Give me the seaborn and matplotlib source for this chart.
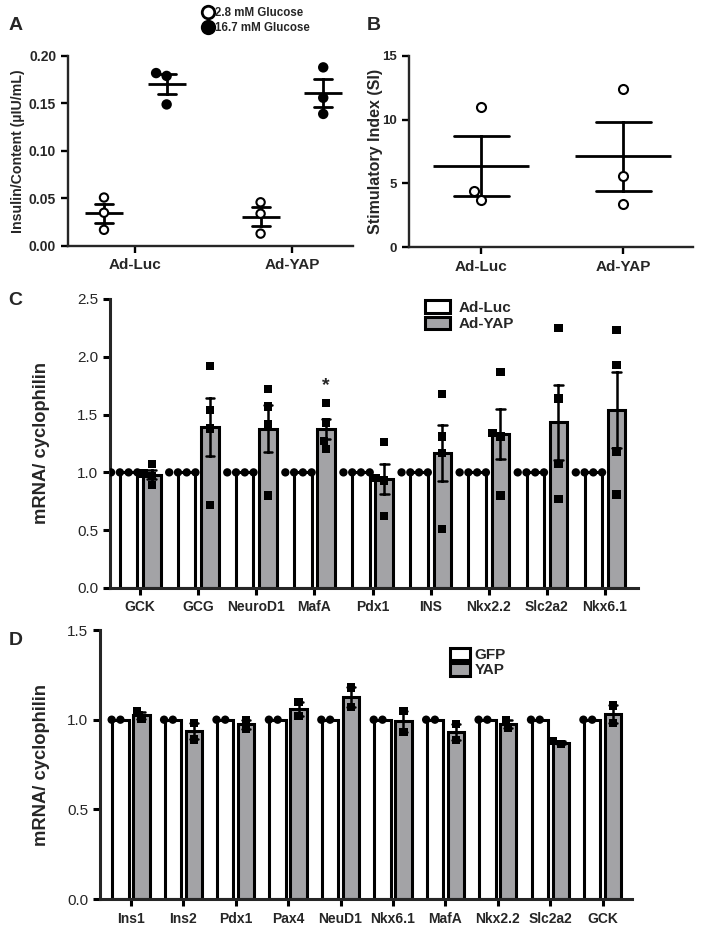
import numpy as np
import pandas as pd
import matplotlib
matplotlib.use("Agg")
import matplotlib.pyplot as plt
from matplotlib.lines import Line2D
import seaborn as sns

sns.set_style("ticks")
plt.rcParams["font.family"] = ["Liberation Sans", "DejaVu Sans"]

# ---- panel A: insulin secretion / content
a_groups = ["Ad-Luc", "Ad-YAP"]
a_glucose = ["2.8 mM Glucose", "16.7 mM Glucose"]
a_luc_low = [0.051, 0.035, 0.017]
a_luc_high = [0.182, 0.179, 0.149]
a_yap_low = [0.046, 0.034, 0.013]
a_yap_high = [0.188, 0.156, 0.139]

# ---- panel B: stimulatory index
b_groups = ["Ad-Luc", "Ad-YAP"]
b_luc = [11.0, 4.4, 3.7]
b_yap = [12.4, 5.6, 3.35]

# ---- panel C: mRNA, Ad-Luc vs Ad-YAP (n=4)
c_genes = ["GCK", "GCG", "NeuroD1", "MafA", "Pdx1", "INS", "Nkx2.2", "Slc2a2", "Nkx6.1"]
c_hue = ["Ad-Luc", "Ad-YAP"]
c_luc = [1.0, 1.0, 1.0, 1.0]  # normalised control, same for every gene
c_yap = [
    [1.07, 0.99, 0.97, 0.89],
    [1.92, 1.54, 1.38, 0.72],
    [1.72, 1.57, 1.42, 0.80],
    [1.60, 1.43, 1.27, 1.20],
    [1.26, 0.95, 0.93, 0.62],
    [1.68, 1.31, 1.17, 0.51],
    [1.87, 1.34, 1.31, 0.80],
    [2.25, 1.64, 1.07, 0.77],
    [2.23, 1.93, 1.18, 0.81],
]

# ---- panel D: mRNA, GFP vs YAP (n=2)
d_genes = ["Ins1", "Ins2", "Pdx1", "Pax4", "NeuD1", "Nkx6.1", "MafA", "Nkx2.2", "Slc2a2", "GCK"]
d_hue = ["GFP", "YAP"]
d_gfp = [1.0, 1.0]
d_yap = [
    [1.045, 1.005],
    [0.98, 0.89],
    [0.95, 1.0],
    [1.10, 1.02],
    [1.18, 1.07],
    [1.05, 0.93],
    [0.975, 0.885],
    [0.955, 1.0],
    [0.865, 0.88],
    [1.08, 0.98],
]

GREY = "#a3a3a6"

# long tables
rows = []
for grp, lo, hi in zip(a_groups, [a_luc_low, a_yap_low], [a_luc_high, a_yap_high]):
    rows += [(grp, a_glucose[0], v) for v in lo]
    rows += [(grp, a_glucose[1], v) for v in hi]
df_a = pd.DataFrame(rows, columns=["group", "glucose", "value"])

rows = []
for grp, vals in zip(b_groups, [b_luc, b_yap]):
    rows += [(grp, v) for v in vals]
df_b = pd.DataFrame(rows, columns=["group", "value"])

rows = []
for gene, yap in zip(c_genes, c_yap):
    rows += [(gene, c_hue[0], v) for v in c_luc]
    rows += [(gene, c_hue[1], v) for v in yap]
df_c = pd.DataFrame(rows, columns=["gene", "group", "value"])

rows = []
for gene, yap in zip(d_genes, d_yap):
    rows += [(gene, d_hue[0], v) for v in d_gfp]
    rows += [(gene, d_hue[1], v) for v in yap]
df_d = pd.DataFrame(rows, columns=["gene", "group", "value"])


def style_axis(ax, lw, ysize, ybold, xsize):
    sns.despine(ax=ax)
    for s in ["left", "bottom"]:
        ax.spines[s].set_linewidth(lw)
    ax.tick_params(axis="both", width=lw, length=5, color="black")
    ax.tick_params(axis="y", labelsize=ysize)
    ax.tick_params(axis="x", labelsize=xsize, pad=4)
    for lab in ax.get_xticklabels():
        lab.set_fontweight("bold")
    if ybold:
        for lab in ax.get_yticklabels():
            lab.set_fontweight("bold")
    ax.set_xlabel("")


fig = plt.figure(figsize=(7.03, 9.36), dpi=100)

# ---------------- A
ax = fig.add_axes([0.0967, 0.7372, 0.4054, 0.2030])
sns.swarmplot(data=df_a, x="group", y="value", hue="glucose", hue_order=a_glucose,
              dodge=True, palette={a_glucose[0]: "white", a_glucose[1]: "black"},
              edgecolor="black", linewidth=1.5, size=6, legend=False, ax=ax, zorder=3)
sns.pointplot(data=df_a, x="group", y="value", hue="glucose", hue_order=a_glucose,
              dodge=0.4, palette={a_glucose[0]: "black", a_glucose[1]: "black"},
              errorbar="se", capsize=0.115, markers="_", markersize=27,
              markeredgewidth=2, linestyle="none", linewidth=2, legend=False, ax=ax)
ax.set_xlim(-0.43, 1.39)
ax.set_ylim(0, 0.2)
ax.set_yticks([0, 0.05, 0.10, 0.15, 0.20])
ax.set_yticklabels(["0.00", "0.05", "0.10", "0.15", "0.20"])
ax.set_ylabel("Insulin/Content (µIU/mL)", fontsize=10.2, fontweight="bold")
ax.yaxis.set_label_coords(-0.151, 0.5)
style_axis(ax, 1.7, 10, True, 11)

handles = [Line2D([], [], marker="o", linestyle="none", markersize=9, mfc="white",
                  mec="black", mew=2),
           Line2D([], [], marker="o", linestyle="none", markersize=9, mfc="black",
                  mec="black", mew=2)]
fig.legend(handles, a_glucose, loc="upper left", bbox_to_anchor=(0.288, 0.993),
           frameon=False, handletextpad=0.05, labelspacing=0.3, handlelength=1.0,
           borderpad=0, borderaxespad=0, prop={"weight": "bold", "size": 8.3})

# ---------------- B
ax = fig.add_axes([0.5818, 0.7361, 0.4040, 0.2041])
sns.swarmplot(data=df_b, x="group", y="value", color="white", edgecolor="black",
              linewidth=1.5, size=6.5, ax=ax, zorder=3)
sns.pointplot(data=df_b, x="group", y="value", color="black", errorbar="se",
              capsize=0.39, markers="_", markersize=69, markeredgewidth=2,
              linestyle="none", linewidth=2, ax=ax)
ax.set_xlim(-0.51, 1.49)
ax.set_ylim(0, 15)
ax.set_yticks([0, 5, 10, 15])
ax.set_ylabel("Stimulatory Index (SI)", fontsize=11.5, fontweight="bold")
ax.yaxis.set_label_coords(-0.092, 0.5)
style_axis(ax, 1.7, 9.5, True, 11)

# ---------------- C
ax = fig.add_axes([0.1565, 0.3718, 0.7511, 0.3088])
sns.barplot(data=df_c, x="gene", y="value", hue="group", hue_order=c_hue,
            palette={c_hue[0]: "white", c_hue[1]: GREY}, saturation=1,
            errorbar="se", capsize=0.3, gap=0.25, edgecolor="black", linewidth=2.2,
            err_kws={"color": "black", "linewidth": 1.8}, ax=ax)
sns.swarmplot(data=df_c[df_c["group"] == c_hue[0]], x="gene", y="value", hue="group",
              hue_order=c_hue, dodge=True, marker="o",
              palette={c_hue[0]: "black", c_hue[1]: "black"}, size=6,
              legend=False, ax=ax, zorder=4, warn_thresh=1)
sns.swarmplot(data=df_c[df_c["group"] == c_hue[1]], x="gene", y="value", hue="group",
              hue_order=c_hue, dodge=True, marker="s",
              palette={c_hue[0]: "black", c_hue[1]: "black"}, size=6,
              legend=False, ax=ax, zorder=4, warn_thresh=1)
mafa = c_genes.index("MafA")
ax.text(mafa + 0.2, max(c_yap[mafa]) + 0.08, "*", ha="center", va="bottom",
        fontsize=14, fontweight="bold")
ax.set_xlim(-0.52, 8.57)
ax.set_ylim(0, 2.5)
ax.set_yticks([0, 0.5, 1.0, 1.5, 2.0, 2.5])
ax.set_ylabel("mRNA/ cyclophilin", fontsize=13.2, fontweight="bold")
ax.yaxis.set_label_coords(-0.114, 0.5)
style_axis(ax, 2.2, 11, False, 10)
sns.move_legend(ax, "upper left", bbox_to_anchor=(0.597, 0.995), frameon=False,
                title=None, handlelength=1.6, handleheight=0.9, labelspacing=0.1,
                handletextpad=0.6, borderpad=0, borderaxespad=0,
                prop={"weight": "bold", "size": 11})

# ---------------- D
ax = fig.add_axes([0.1422, 0.0395, 0.7568, 0.2874])
sns.barplot(data=df_d, x="gene", y="value", hue="group", hue_order=d_hue,
            palette={d_hue[0]: "white", d_hue[1]: GREY}, saturation=1,
            errorbar="se", capsize=0.3, gap=0.22, edgecolor="black", linewidth=2.2,
            err_kws={"color": "black", "linewidth": 1.8}, ax=ax)
sns.swarmplot(data=df_d[df_d["group"] == d_hue[0]], x="gene", y="value", hue="group",
              hue_order=d_hue, dodge=True, marker="o",
              palette={d_hue[0]: "black", d_hue[1]: "black"}, size=6,
              legend=False, ax=ax, zorder=4, warn_thresh=1)
sns.swarmplot(data=df_d[df_d["group"] == d_hue[1]], x="gene", y="value", hue="group",
              hue_order=d_hue, dodge=True, marker="s",
              palette={d_hue[0]: "black", d_hue[1]: "black"}, size=6,
              legend=False, ax=ax, zorder=4, warn_thresh=1)
ax.set_xlim(-0.59, 9.56)
ax.set_ylim(0, 1.5)
ax.set_yticks([0, 0.5, 1.0, 1.5])
ax.set_ylabel("mRNA/ cyclophilin", fontsize=13.2, fontweight="bold")
ax.yaxis.set_label_coords(-0.094, 0.5)
style_axis(ax, 2.2, 11, False, 10)
sns.move_legend(ax, "upper left", bbox_to_anchor=(0.658, 0.935), frameon=False,
                title=None, handlelength=1.3, handleheight=0.9, labelspacing=0.05,
                handletextpad=0.3, borderpad=0, borderaxespad=0,
                prop={"weight": "bold", "size": 11})

# panel letters
for letter, x, y in [("A", 0.012, 0.973), ("B", 0.522, 0.973), ("C", 0.012, 0.679),
                     ("D", 0.012, 0.316)]:
    fig.text(x, y, letter, fontsize=14, fontweight="bold", va="center")

fig.savefig("out.png", dpi=100)
